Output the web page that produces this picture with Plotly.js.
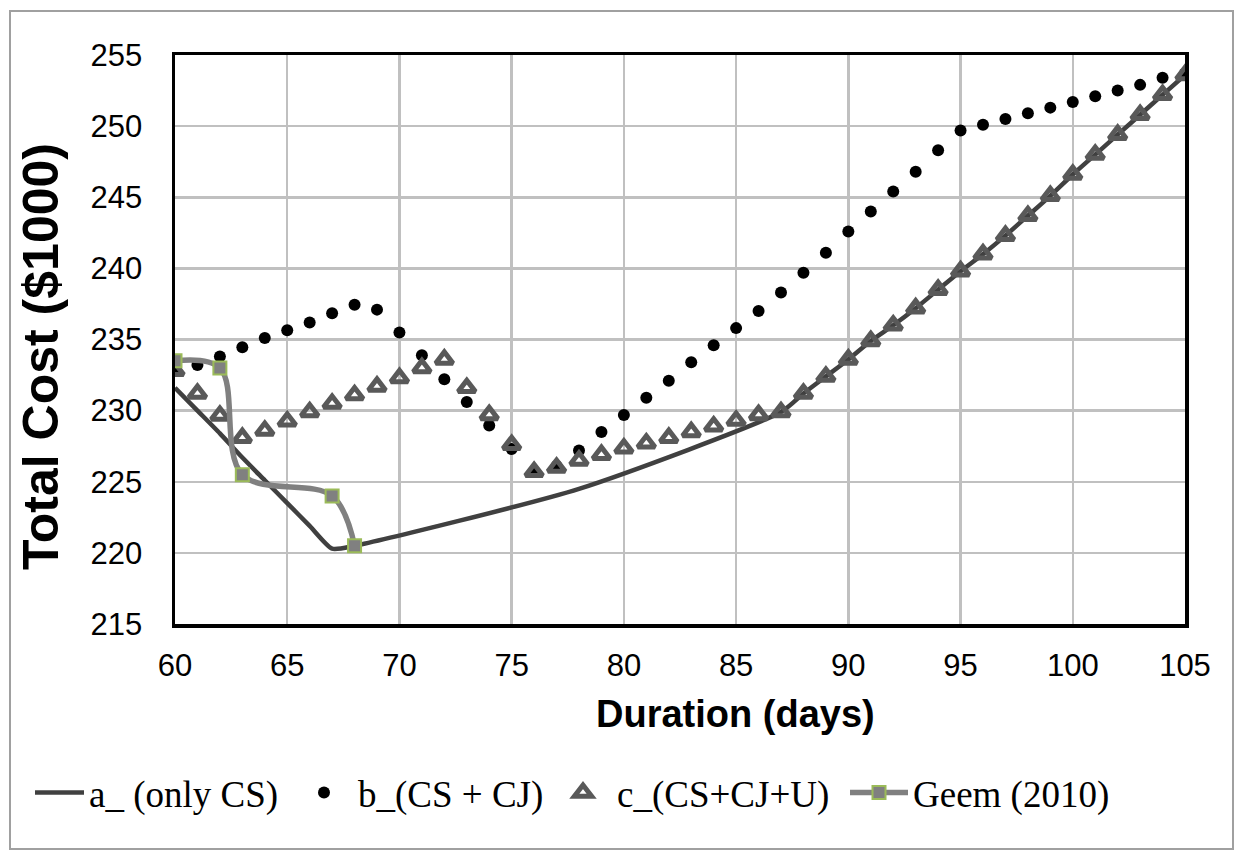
<!DOCTYPE html>
<html>
<head>
<meta charset="utf-8">
<script src="https://cdn.plot.ly/plotly-3.0.1.min.js"></script>
<style>html,body{margin:0;padding:0;background:#fff;}#chart{width:1240px;height:851px;}</style>
</head>
<body>
<div id="chart"></div>
<script>
// Duration (days)
const daysA = [60, 61, 62, 63, 64, 65, 66, 67, 68, 78, 87, 88, 89, 90, 91, 92, 93, 94, 95, 96, 97, 98, 99, 100, 101, 102, 103, 104, 105];
const costA = [231.6, 230.0, 228.4, 226.7, 225.1, 223.5, 221.9, 220.3, 220.5, 224.5, 229.9, 231.2, 232.4, 233.6, 234.9, 236.0, 237.2, 238.5, 239.8, 241.0, 242.3, 243.7, 245.1, 246.6, 248.0, 249.4, 250.8, 252.2, 253.6];

const daysBC = [60, 61, 62, 63, 64, 65, 66, 67, 68, 69, 70, 71, 72, 73, 74, 75, 76, 77, 78, 79, 80, 81, 82, 83, 84, 85, 86, 87, 88, 89, 90, 91, 92, 93, 94, 95, 96, 97, 98, 99, 100, 101, 102, 103, 104, 105];
const costB = [232.9, 233.2, 233.8, 234.45, 235.1, 235.65, 236.2, 236.85, 237.45, 237.1, 235.5, 233.9, 232.2, 230.6, 228.95, 227.3, 225.7, 226.1, 227.2, 228.5, 229.7, 230.9, 232.1, 233.4, 234.6, 235.8, 237.0, 238.3, 239.7, 241.1, 242.6, 244.0, 245.4, 246.8, 248.3, 249.7, 250.1, 250.5, 250.9, 251.3, 251.7, 252.1, 252.5, 252.9, 253.4, 253.7];
const costC = [232.8, 231.2, 229.65, 228.1, 228.6, 229.25, 229.9, 230.5, 231.1, 231.7, 232.3, 233.0, 233.6, 231.6, 229.7, 227.6, 225.7, 226.0, 226.5, 226.9, 227.35, 227.7, 228.1, 228.5, 228.9, 229.3, 229.7, 229.9, 231.2, 232.4, 233.6, 234.9, 236.0, 237.2, 238.5, 239.8, 241.0, 242.3, 243.7, 245.1, 246.6, 248.0, 249.4, 250.8, 252.2, 253.6];

const daysGeem = [60, 62, 63, 67, 68];
const costGeem = [233.5, 233.0, 225.5, 224.0, 220.5];

const seriesNames = ["a_ (only CS)", "b_(CS + CJ)", "c_(CS+CJ+U)", "Geem (2010)"];
const xTickVals = [60, 65, 70, 75, 80, 85, 90, 95, 100, 105];
const yTickVals = [215, 220, 225, 230, 235, 240, 245, 250, 255];

const traces = [
  {x: daysA, y: costA, name: seriesNames[0], mode: "lines", type: "scatter", legend: "legend",
   line: {color: "#404040", width: 4.5, shape: "spline", smoothing: 0.6}},
  {x: daysBC, y: costB, name: seriesNames[1], mode: "markers", type: "scatter", legend: "legend2",
   marker: {symbol: "circle", size: 12, color: "#000000"}},
  {x: daysBC, y: costC, name: seriesNames[2], mode: "markers", type: "scatter", legend: "legend3",
   marker: {symbol: "triangle-up", size: 15, color: "rgba(0,0,0,0)", line: {width: 5, color: "#595959"}}},
  {x: daysGeem, y: costGeem, name: seriesNames[3], mode: "lines+markers", type: "scatter", legend: "legend4",
   line: {color: "#808080", width: 5.5, shape: "spline", smoothing: 1},
   marker: {symbol: "square", size: 13, color: "#808080", line: {width: 2, color: "#9BBB59"}}}
];

const L = 175, R = 1185, T = 55, B = 624;
const W = 1240, H = 851;
const pw = R - L, ph = B - T;
function px(x) { return (x - L) / pw; }
function py(y) { return (B - y) / ph; }

const legFont = {family: "Liberation Serif, Times New Roman, serif", size: 37, color: "#000000"};
function leg(xpx, iw) {
  return {orientation: "h", x: px(xpx), xanchor: "left", y: py(762), yanchor: "top",
          font: legFont, bgcolor: "rgba(0,0,0,0)", itemwidth: iw};
}

const layout = {
  width: W, height: H,
  margin: {l: L, r: W - R, t: T, b: H - B},
  paper_bgcolor: "#ffffff", plot_bgcolor: "#ffffff",
  showlegend: true,
  font: {family: "Liberation Sans, Arial, sans-serif", color: "#000000", size: 31},
  xaxis: {
    range: [60, 105], tickvals: xTickVals, ticks: "", ticklabelstandoff: 11,
    showgrid: true, gridcolor: "#C0C0C0", gridwidth: 2.5,
    showline: true, linecolor: "#000000", linewidth: 3.5, mirror: true,
    zeroline: false, tickfont: {size: 31, family: "Liberation Sans, Arial, sans-serif"}
  },
  yaxis: {
    range: [215, 255], tickvals: yTickVals, ticks: "", ticklabelstandoff: 23,
    showgrid: true, gridcolor: "#C0C0C0", gridwidth: 2.5,
    showline: true, linecolor: "#000000", linewidth: 3.5, mirror: true,
    zeroline: false, tickfont: {size: 31, family: "Liberation Sans, Arial, sans-serif"}
  },
  legend: leg(30, 49),
  legend2: leg(290, 58),
  legend3: leg(549, 58),
  legend4: leg(845, 58),
  annotations: [
    {text: "<b>Duration (days)</b>", xref: "paper", yref: "paper", x: px(735), y: py(714),
     xanchor: "center", yanchor: "middle", showarrow: false,
     font: {family: "Liberation Sans, Arial, sans-serif", size: 38, color: "#000000"}},
    {text: "<b>Total Cost ($1000)</b>", xref: "paper", yref: "paper", x: px(41), y: py(357),
     xanchor: "center", yanchor: "middle", showarrow: false, textangle: -90,
     font: {family: "Liberation Sans, Arial, sans-serif", size: 50, color: "#000000"}}
  ],
  shapes: [
    {type: "rect", xref: "paper", yref: "paper", x0: px(10), x1: px(1233), y0: py(849), y1: py(11),
     line: {color: "#A0A0A0", width: 2}, fillcolor: "rgba(0,0,0,0)", layer: "below"}
  ]
};

Plotly.newPlot("chart", traces, layout, {displayModeBar: false, staticPlot: true});
</script>
</body>
</html>
